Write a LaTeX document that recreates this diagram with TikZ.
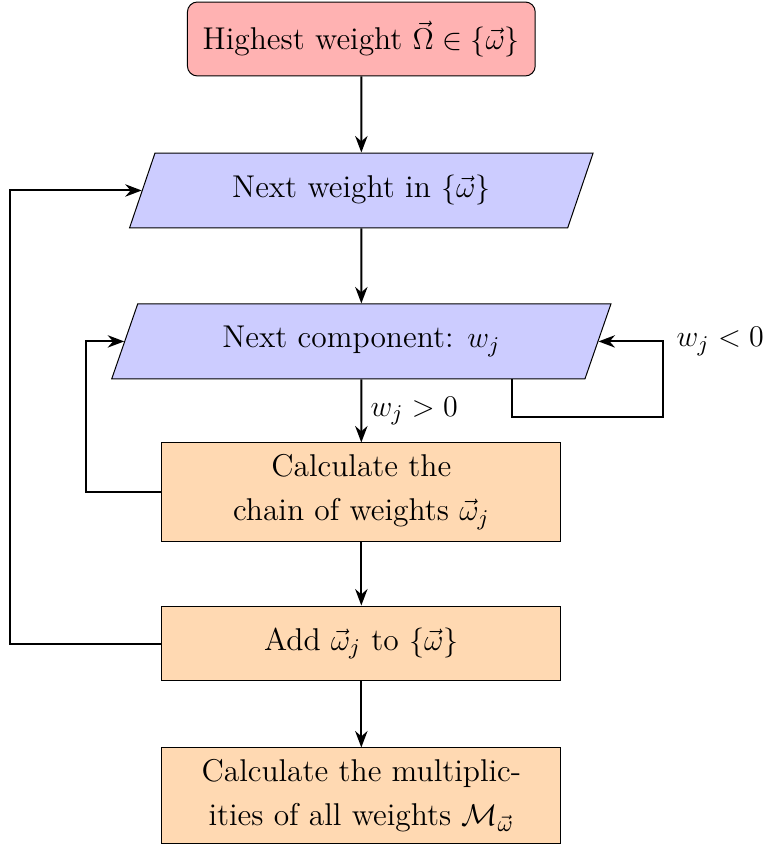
\documentclass[tikz,border=0pt]{standalone}
\usetikzlibrary{arrows.meta,positioning,shapes.geometric}

\begin{document}
\begin{tikzpicture}[>=Stealth,font=\fontsize{12.6}{17.5}\selectfont,
  start/.style={draw,rounded corners,fill=red!30,minimum width=4.89cm,minimum height=1.04cm},
  io/.style={draw,trapezium,trapezium left angle=70,trapezium right angle=110,trapezium stretches=true,fill=blue!20,minimum height=1.054cm},
  proc/.style={draw,fill=orange!30,minimum width=5.61cm,align=center},
  flow/.style={->,thick}]
\useasboundingbox (0,0) rectangle (10.77,-11.88);
\node[start] (top) at (5.08,-0.548) {Highest weight $\vec{\Omega}\in\{\vec{\omega}\}$};
\node[io,minimum width=6.52cm] (p1) at (5.08,-2.678) {Next weight in $\{\vec{\omega}\}$};
\node[io,minimum width=7.02cm] (p2) at (5.08,-4.80) {Next component: $w_j$};
\node[proc,minimum height=1.378cm] (b3) at (5.08,-6.917) {Calculate the\\ chain of weights $\vec{\omega}_j$};
\node[proc,minimum height=1.054cm] (b4) at (5.08,-9.047) {Add $\vec{\omega}_j$ to $\{\vec{\omega}\}$};
\node[proc,minimum height=1.336cm] (b5) at (5.08,-11.184) {Calculate the multiplic-\\ities of all weights $\mathcal{M}_{\vec{\omega}}$};
\coordinate (rloop) at (9.32,-5.863);
\coordinate (lloop) at (1.209,0);
\coordinate (oloop) at (0.141,0);
\draw[flow] (top) -- (p1);
\draw[flow] (p1) -- (p2);
\draw[flow] (p2) -- node[right] {$w_j>0$} (b3);
\draw[flow] (b3) -- (b4);
\draw[flow] (b4) -- (b5);
\draw[flow] ([xshift=2.12cm]p2.south) |- (rloop) |- (p2.east);
\node[right=2pt] (neg) at (rloop |- p2.east) {$w_j<0$};
\draw[flow] (b3.west) -| (lloop |- p2.west) -- (p2.west);
\draw[flow] (b4.west) -| (oloop |- p1.west) -- (p1.west);
\end{tikzpicture}
\end{document}
